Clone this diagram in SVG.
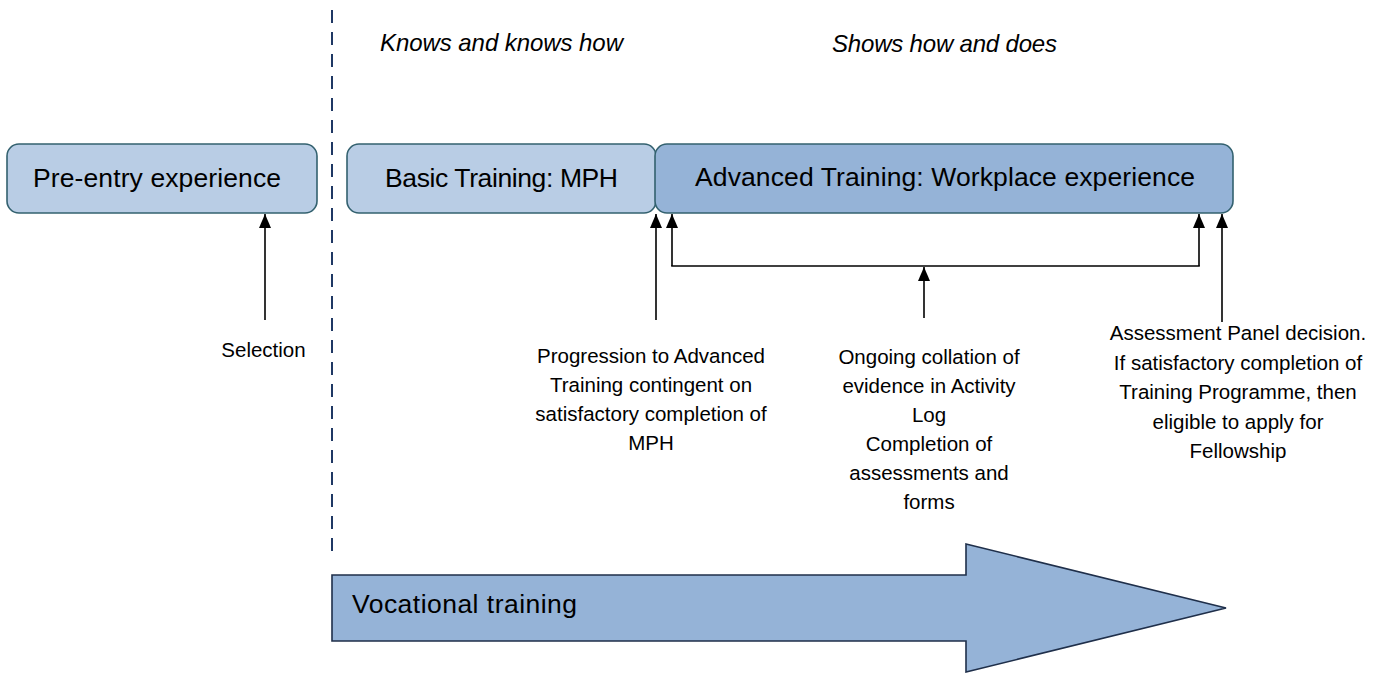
<svg xmlns="http://www.w3.org/2000/svg" width="1392" height="673" viewBox="0 0 1392 673">
<style>
.box{stroke:#33616f;stroke-width:1.6}
.light{fill:#b9cde5}
.dark{fill:#95b3d7}
.lbl{font-family:"Liberation Sans",Arial,sans-serif;font-size:26.5px;fill:#000}
.hdr{font-family:"Liberation Sans",Arial,sans-serif;font-size:24px;font-style:italic;fill:#000}
.note{font-family:"Liberation Sans",Arial,sans-serif;font-size:20.5px;fill:#000;text-anchor:middle}
.con{stroke:#000;stroke-width:1.6;fill:none}
</style>
<defs>
<marker id="ah" viewBox="0 0 10 10" refX="10" refY="5" markerWidth="7.5" markerHeight="7.5" markerUnits="userSpaceOnUse" orient="auto">
<path d="M0,0 L10,5 L0,10 Z" fill="#000"/>
</marker>
<marker id="ah2" viewBox="0 0 14 12" refX="14" refY="6" markerWidth="14" markerHeight="12" markerUnits="userSpaceOnUse" orient="auto">
<path d="M0,0 L14,6 L0,12 Z" fill="#000"/>
</marker>
</defs>
<rect width="1392" height="673" fill="#fff"/>

<line id="divider" x1="332" y1="10" x2="332" y2="556" stroke="#1f3864" stroke-width="2" stroke-dasharray="13 9"/>

<g id="header-knows"><text class="hdr" x="380" y="51" textLength="243">Knows and knows how</text></g>
<g id="header-shows"><text class="hdr" x="832" y="52" textLength="225">Shows how and does</text></g>

<g id="pre-entry">
<rect class="box light" x="7" y="144" width="310" height="69" rx="12"/>
<text class="lbl" x="33" y="187" textLength="248">Pre-entry experience</text>
</g>
<g id="basic-training">
<rect class="box light" x="347" y="144" width="309" height="69" rx="12"/>
<text class="lbl" x="385" y="187" textLength="233">Basic Training: MPH</text>
</g>
<g id="advanced-training">
<rect class="box dark" x="655" y="144" width="578" height="69" rx="12"/>
<text class="lbl" x="695" y="186" textLength="500">Advanced Training: Workplace experience</text>
</g>

<g id="vocational-training">
<path d="M332,575 L966,575 L966,544 L1226,608 L966,672 L966,641 L332,641 Z" fill="#95b3d7" stroke="#1f2f4a" stroke-width="1.6"/>
<text class="lbl" x="352" y="613" textLength="225">Vocational training</text>
</g>

<g id="connectors">
<line class="con" x1="265" y1="320" x2="265" y2="214" marker-end="url(#ah2)"/>
<line class="con" x1="656" y1="320" x2="656" y2="214" marker-end="url(#ah2)"/>
<polyline class="con" points="672,266 672,214" marker-end="url(#ah2)"/>
<polyline class="con" points="1199,266 1199,214" marker-end="url(#ah2)"/>
<line class="con" x1="671.2" y1="266" x2="1199.8" y2="266"/>
<line class="con" x1="924" y1="318" x2="924" y2="267" marker-end="url(#ah2)"/>
<line class="con" x1="1222" y1="322" x2="1222" y2="214" marker-end="url(#ah2)"/>
</g>

<g id="selection-label"><text class="note" x="263.5" y="357">Selection</text></g>
<g id="progression-label">
<text class="note" x="651" y="363">Progression to Advanced</text>
<text class="note" x="651" y="392">Training contingent on</text>
<text class="note" x="651" y="421">satisfactory completion of</text>
<text class="note" x="651" y="450">MPH</text>
</g>
<g id="ongoing-label">
<text class="note" x="929" y="364">Ongoing collation of</text>
<text class="note" x="929" y="393">evidence in Activity</text>
<text class="note" x="929" y="422">Log</text>
<text class="note" x="929" y="451">Completion of</text>
<text class="note" x="929" y="480">assessments and</text>
<text class="note" x="929" y="509">forms</text>
</g>
<g id="assessment-label">
<text class="note" x="1238" y="340">Assessment Panel decision.</text>
<text class="note" x="1238" y="369.5">If satisfactory completion of</text>
<text class="note" x="1238" y="399">Training Programme, then</text>
<text class="note" x="1238" y="428.5">eligible to apply for</text>
<text class="note" x="1238" y="458">Fellowship</text>
</g>
</svg>
